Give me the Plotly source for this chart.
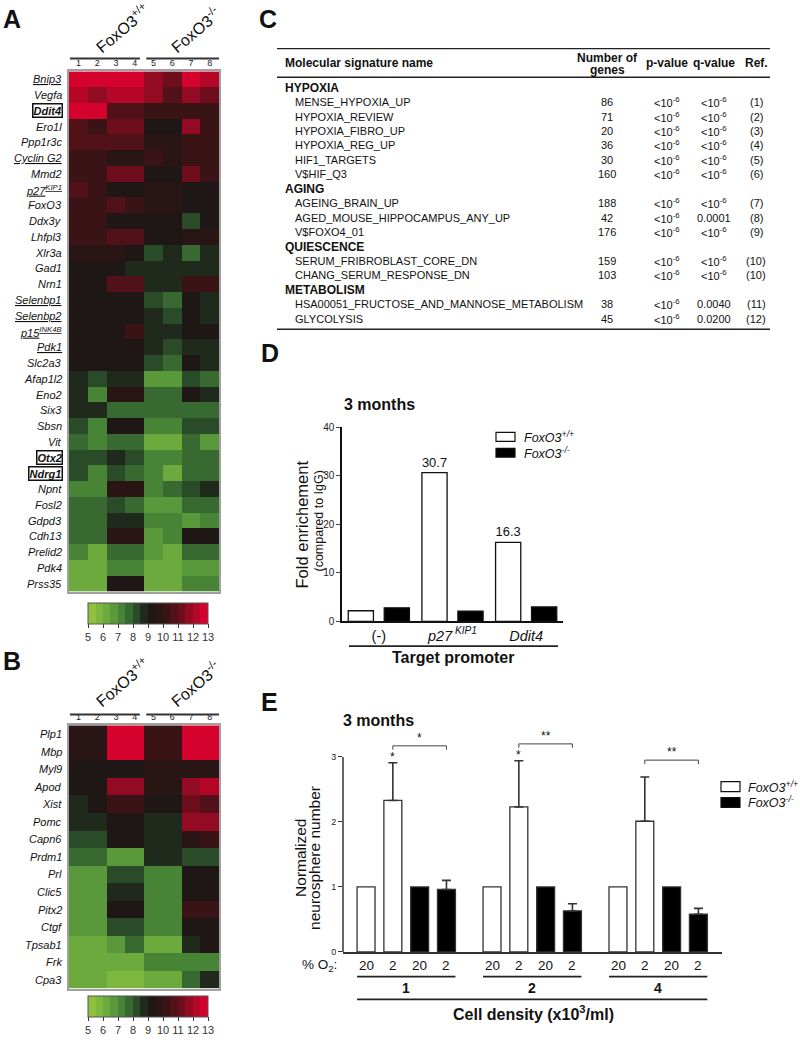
import plotly.graph_objects as go

W, H = 800, 1043
FONT = "Liberation Sans, Arial, Helvetica, sans-serif"


def X(px):
    return px / W


def Y(py):
    return 1 - py / H


# ---------------- Panel A data ----------------
sample_cols = [1, 2, 3, 4, 5, 6, 7, 8]
genes_A = ["Bnip3", "Vegfa", "Ddit4", "Ero1l", "Ppp1r3c", "Cyclin G2", "Mmd2", "p27KIP1",
           "FoxO3", "Ddx3y", "Lhfpl3", "Xlr3a", "Gad1", "Nrn1", "Selenbp1", "Selenbp2",
           "p15INK4B", "Pdk1", "Slc2a3", "Afap1l2", "Eno2", "Six3", "Sbsn", "Vit", "Otx2",
           "Ndrg1", "Npnt", "Fosl2", "Gdpd3", "Cdh13", "Prelid2", "Pdk4", "Prss35"]
z_A = [
    [12.8, 12.8, 12.8, 12.8, 11.8, 11.3, 12.8, 12.0],
    [12.0, 11.5, 12.2, 12.2, 11.5, 10.5, 11.8, 11.2],
    [12.5, 12.5, 10.9, 10.9, 10.0, 10.0, 10.0, 10.2],
    [10.9, 10.2, 11.0, 11.0, 9.4, 9.0, 11.5, 10.2],
    [10.9, 10.9, 10.9, 10.9, 9.8, 9.8, 10.2, 10.2],
    [10.3, 10.3, 9.8, 9.8, 10.0, 9.6, 10.0, 10.0],
    [10.4, 10.4, 11.2, 11.2, 9.4, 9.4, 11.0, 10.0],
    [10.7, 10.0, 9.4, 9.4, 9.5, 9.5, 9.3, 9.3],
    [10.0, 10.0, 10.8, 10.2, 9.5, 9.5, 9.3, 9.3],
    [10.0, 10.0, 9.4, 9.4, 9.3, 9.3, 8.3, 9.3],
    [10.0, 10.0, 10.5, 10.5, 9.3, 9.3, 9.5, 9.5],
    [9.5, 9.5, 9.5, 9.3, 8.0, 8.7, 7.8, 8.5],
    [9.4, 9.4, 9.4, 8.8, 8.8, 8.8, 8.5, 8.5],
    [9.4, 9.4, 10.8, 10.8, 8.8, 8.8, 10.0, 10.0],
    [9.4, 9.2, 9.3, 9.3, 8.0, 7.5, 9.2, 8.7],
    [9.4, 9.2, 9.3, 9.3, 8.8, 8.2, 9.2, 8.7],
    [9.4, 9.3, 9.3, 10.0, 8.8, 8.8, 9.3, 9.2],
    [9.3, 9.3, 9.3, 9.3, 8.8, 8.2, 8.5, 8.5],
    [9.3, 9.3, 9.3, 9.3, 8.0, 7.5, 9.3, 8.5],
    [8.7, 8.0, 8.5, 8.5, 6.5, 6.5, 8.2, 7.5],
    [8.5, 7.0, 9.6, 9.6, 7.5, 7.5, 9.3, 8.7],
    [8.6, 8.6, 7.8, 7.8, 7.5, 7.5, 7.5, 7.5],
    [8.0, 7.3, 9.4, 9.4, 7.0, 7.0, 8.0, 8.0],
    [7.8, 7.3, 7.5, 7.5, 6.3, 6.3, 7.5, 6.5],
    [8.0, 8.0, 8.6, 8.3, 7.2, 7.2, 7.5, 7.5],
    [8.0, 7.3, 8.3, 7.8, 7.2, 6.3, 7.5, 7.5],
    [7.3, 7.3, 9.5, 9.5, 7.0, 7.8, 8.2, 8.7],
    [7.5, 7.5, 8.3, 7.8, 6.5, 6.5, 7.5, 7.5],
    [7.5, 7.5, 8.5, 8.5, 7.3, 7.3, 6.5, 7.2],
    [7.8, 7.8, 9.6, 9.6, 6.8, 7.3, 9.0, 9.0],
    [7.0, 6.3, 7.8, 7.8, 6.5, 6.0, 7.8, 7.8],
    [6.3, 6.3, 7.0, 7.0, 6.3, 6.3, 6.5, 6.8],
    [6.3, 6.0, 9.3, 9.3, 6.3, 6.3, 7.3, 7.3],
]
underlined_A = ["Bnip3", "Cyclin G2", "p27KIP1", "Selenbp1", "Selenbp2", "p15INK4B", "Pdk1"]
boxed_A = ["Ddit4", "Otx2", "Ndrg1"]
superscripts = {"p27KIP1": ("p27", "KIP1"), "p15INK4B": ("p15", "INK4B")}

# ---------------- Panel B data ----------------
genes_B = ["Plp1", "Mbp", "Myl9", "Apod", "Xist", "Pomc", "Capn6", "Prdm1", "Prl", "Clic5",
           "Pitx2", "Ctgf", "Tpsab1", "Frk", "Cpa3"]
z_B = [
    [9.8, 9.8, 12.8, 12.8, 10.0, 10.0, 12.8, 12.8],
    [9.8, 9.8, 12.8, 12.8, 10.0, 10.0, 12.5, 12.5],
    [9.4, 9.4, 9.4, 9.4, 9.8, 9.8, 9.8, 9.8],
    [9.3, 9.3, 11.5, 11.5, 9.8, 9.8, 11.8, 12.0],
    [8.5, 9.3, 10.0, 10.0, 9.4, 9.4, 11.3, 10.5],
    [8.5, 8.5, 9.3, 9.3, 8.5, 8.5, 11.8, 11.8],
    [8.3, 8.3, 9.3, 9.3, 8.8, 8.8, 9.5, 10.0],
    [7.5, 7.5, 6.5, 6.5, 8.8, 8.8, 8.2, 8.2],
    [6.5, 6.5, 8.0, 8.0, 7.3, 7.3, 9.4, 9.4],
    [6.5, 6.5, 8.7, 8.7, 7.3, 7.3, 9.4, 9.4],
    [6.5, 6.5, 9.4, 9.4, 7.3, 7.3, 10.0, 10.0],
    [6.5, 6.5, 8.0, 8.0, 7.3, 7.3, 9.3, 9.3],
    [6.0, 6.0, 6.8, 7.8, 6.0, 6.0, 8.8, 9.3],
    [6.0, 6.0, 6.0, 6.0, 7.0, 7.0, 7.3, 7.3],
    [6.0, 6.0, 5.5, 5.8, 6.0, 6.0, 7.5, 8.5],
]
scale_ticks = [5, 6, 7, 8, 9, 10, 11, 12, 13]
genotypes = ["FoxO3<sup>+/+</sup>", "FoxO3<sup>-/-</sup>"]

# ---------------- Panel C data ----------------
sig_group = ["HYPOXIA"] * 6 + ["AGING"] * 3 + ["QUIESCENCE"] * 2 + ["METABOLISM"] * 2
sig_names = ["MENSE_HYPOXIA_UP", "HYPOXIA_REVIEW", "HYPOXIA_FIBRO_UP", "HYPOXIA_REG_UP",
             "HIF1_TARGETS", "V$HIF_Q3", "AGEING_BRAIN_UP", "AGED_MOUSE_HIPPOCAMPUS_ANY_UP",
             "V$FOXO4_01", "SERUM_FRIBROBLAST_CORE_DN", "CHANG_SERUM_RESPONSE_DN",
             "HSA00051_FRUCTOSE_AND_MANNOSE_METABOLISM", "GLYCOLYSIS"]
n_genes = [86, 71, 20, 36, 30, 160, 188, 42, 176, 159, 103, 38, 45]
LT6 = "&lt;10<sup>-6</sup>"
p_values = [LT6] * 13
q_values = [LT6, LT6, LT6, LT6, LT6, LT6, LT6, "0.0001", LT6, LT6, LT6, "0.0040", "0.0200"]
refs = ["(1)", "(2)", "(3)", "(4)", "(5)", "(6)", "(7)", "(8)", "(9)", "(10)", "(10)", "(11)", "(12)"]
table_headers = ["Molecular signature name", "Number of|genes", "p-value", "q-value", "Ref."]

# ---------------- Panel D data ----------------
promoters = ["(-)", "p27KIP1", "Ddit4"]
promoter_labels = ["(-)", "<i>p27<sup> KIP1</sup></i>", "<i>Ddit4</i>"]
fold_wt = [2.2, 30.7, 16.3]
fold_ko = [2.8, 2.1, 3.0]

# ---------------- Panel E data ----------------
densities = ["1", "2", "4"]
o2_levels = ["20", "2", "20", "2"]
wt_20 = [1.0, 1.0, 1.0]
wt_2 = [2.33, 2.23, 2.01]
wt_2_err = [0.58, 0.71, 0.68]
ko_20 = [1.0, 1.0, 1.0]
ko_2 = [0.96, 0.63, 0.58]
ko_2_err = [0.14, 0.11, 0.09]
stars_vs20 = ["*", "*", ""]
stars_wt_ko = ["*", "**", "**"]

# ---------------- colour scale (stepped green-black-red) ----------------
anchors = [(5, (150, 198, 62)), (6, (118, 178, 62)), (7, (80, 145, 58)), (8, (48, 92, 44)),
           (8.5, (36, 58, 34)), (9, (26, 24, 22)), (10, (46, 20, 20)), (11, (92, 16, 26)),
           (12, (165, 8, 38)), (13, (228, 0, 46))]


def interp(v):
    for (v0, c0), (v1, c1) in zip(anchors[:-1], anchors[1:]):
        if v0 <= v <= v1:
            t = (v - v0) / (v1 - v0)
            return tuple(round(a + (b - a) * t) for a, b in zip(c0, c1))
    return anchors[-1][1]


nb = 16
colorscale = []
for k in range(nb):
    c = interp(5 + (k + 0.5) * 8 / nb)
    col = "rgb(%d,%d,%d)" % c
    colorscale.append([k / nb, col])
    colorscale.append([(k + 1) / nb, col])

fig = go.Figure()
annotations = []
shapes = []


def txt(x, y, s, size=11, xanchor="center", yanchor="middle", angle=0, color="#111",
        xref="paper", yref="paper", **kw):
    annotations.append(dict(x=x, y=y, text=s, xref=xref, yref=yref, showarrow=False,
                            xanchor=xanchor, yanchor=yanchor, textangle=angle,
                            font=dict(size=size, color=color, family=FONT), **kw))


def line(x0, y0, x1, y1, width=1.5, color="#222", xref="paper", yref="paper"):
    shapes.append(dict(type="line", x0=x0, y0=y0, x1=x1, y1=y1, xref=xref, yref=yref,
                       line=dict(color=color, width=width)))


def rect(x0, y0, x1, y1, fill, xref="paper", yref="paper"):
    shapes.append(dict(type="rect", x0=x0, y0=y0, x1=x1, y1=y1, xref=xref, yref=yref,
                       fillcolor=fill, line=dict(color="#111", width=1.2)))


def gene_label(g, underlined, boxed):
    base, sup = superscripts.get(g, (g, None))
    s = base + ("<sup>%s</sup>" % sup if sup else "")
    if boxed:
        s = "<b>%s</b>" % s
    if underlined:
        s = "<u>%s</u>" % s
    return "<i>%s</i>" % s


# ---------------- heatmaps ----------------
fig.add_trace(go.Heatmap(z=z_A, x=sample_cols, y=genes_A, coloraxis="coloraxis",
                         xaxis="x", yaxis="y", hoverinfo="skip"))
fig.add_trace(go.Heatmap(z=z_B, x=sample_cols, y=genes_B, coloraxis="coloraxis2",
                         xaxis="x2", yaxis="y2", hoverinfo="skip"))

heat_x = dict(side="top", tickvals=sample_cols, ticks="", tickfont=dict(size=9, color="#222"),
              showline=True, mirror=True, linecolor="#a0a0a0", linewidth=1.5, showgrid=False,
              zeroline=False, range=[0.5, 8.5], ticklabelstandoff=0)
heat_y = dict(autorange="reversed", showticklabels=False, ticks="", showline=True, mirror=True,
              linecolor="#a0a0a0", linewidth=1.5, showgrid=False, zeroline=False)


def colorbar(ypx):
    return dict(orientation="h", x=X(148), xanchor="center", y=Y(ypx), yanchor="top",
                lenmode="pixels", len=120, thickness=21, tickvals=scale_ticks, ticks="outside",
                ticklen=4, tickcolor="#333", tickfont=dict(size=11, color="#333", family=FONT),
                outlinewidth=1, outlinecolor="#555", xpad=0, ypad=0)


for (genes, xa, ya, grp_y, lab_y) in [(genes_A, "x", "y", 54, 23), (genes_B, "x2", "y2", 717, 684)]:
    for i, g in enumerate(genes):
        boxed = g in boxed_A
        kw = dict(bordercolor="#111", borderwidth=1.5, borderpad=0) if boxed else {}
        txt(X(64) if not boxed else X(63), i, gene_label(g, g in underlined_A, boxed), size=11,
            xanchor="right", yref=ya, **kw)
    # group lines above sample numbers
    line(0.55, Y(grp_y), 4.28, Y(grp_y), width=2, color="#333", xref=xa)
    line(4.62, Y(grp_y), 8.5, Y(grp_y), width=2, color="#333", xref=xa)
    txt(X(122), Y(lab_y), genotypes[0], size=16, angle=-40)
    txt(X(195), Y(lab_y + 2), genotypes[1], size=16, angle=-40)

txt(X(12), Y(14), "<b>A</b>", size=25)
txt(X(12), Y(663), "<b>B</b>", size=25)

# ---------------- Panel C: table ----------------
txt(X(268), Y(14), "<b>C</b>", size=25)
line(X(277), Y(44), X(770), Y(44), width=1.3)
line(X(277), Y(73), X(770), Y(73), width=1.3)
col_x = [283, 607, 667, 714, 756]
txt(X(col_x[0]), Y(59), "<b>%s</b>" % table_headers[0], size=12, xanchor="left")
for cx, h in zip(col_x[1:], table_headers[1:]):
    parts = h.split("|")
    if len(parts) == 2:
        txt(X(cx), Y(54), "<b>%s</b>" % parts[0], size=12)
        txt(X(cx), Y(65.5), "<b>%s</b>" % parts[1], size=12)
    else:
        txt(X(cx), Y(59), "<b>%s</b>" % h, size=12)

row_y = 83.5
step = 14.6
prev = None
for grp, name, n, p, q, r in zip(sig_group, sig_names, n_genes, p_values, q_values, refs):
    if grp != prev:
        txt(X(283), Y(row_y), "<b>%s</b>" % grp, size=12, xanchor="left")
        row_y += step
        prev = grp
    txt(X(293), Y(row_y), name, size=11, xanchor="left")
    txt(X(col_x[1]), Y(row_y), str(n), size=11)
    txt(X(col_x[2]), Y(row_y), p, size=11)
    txt(X(col_x[3]), Y(row_y), q, size=11)
    txt(X(col_x[4]), Y(row_y), r, size=11)
    row_y += step
line(X(277), Y(row_y - 4), X(770), Y(row_y - 4), width=1.3)

# ---------------- Panel D: ChIP bars ----------------
fig.add_trace(go.Bar(x=promoters, y=fold_wt, marker=dict(color="white", line=dict(color="#111", width=1.3)),
                     text=["%.1f" % v if v > 10 else "" for v in fold_wt], textposition="outside",
                     textfont=dict(size=13, color="#111", family=FONT), cliponaxis=False,
                     xaxis="x3", yaxis="y3", hoverinfo="skip"))
fig.add_trace(go.Bar(x=promoters, y=fold_ko, marker=dict(color="black", line=dict(color="#111", width=1.3)),
                     xaxis="x3", yaxis="y3", hoverinfo="skip"))

txt(X(270), Y(352), "<b>D</b>", size=25)
txt(X(342), Y(404), "<b>3 months</b>", size=16, xanchor="left")
txt(X(302), Y(525), "Fold enrichement", size=16.5, angle=-90)
txt(X(319), Y(522), "(compared to IgG)", size=12.5, angle=-90)
line(X(349), Y(648), X(558), Y(648), width=1.6)
txt(X(453), Y(659), "<b>Target promoter</b>", size=16)
rect(X(496), Y(432), X(515), Y(441), "white")
rect(X(496), Y(448), X(515), Y(457), "black")
txt(X(522), Y(436.5), "<i>%s</i>" % genotypes[0], size=12.5, xanchor="left")
txt(X(522), Y(452.5), "<i>%s</i>" % genotypes[1], size=12.5, xanchor="left")

# ---------------- Panel E: neurosphere bars ----------------
GROUP_STRIDE = 4.7
BW = 0.67


def pos(g, b):
    return g * GROUP_STRIDE + b


series = [
    (wt_20, None, 0, "white"),
    (wt_2, wt_2_err, 1, "white"),
    (ko_20, None, 2, "black"),
    (ko_2, ko_2_err, 3, "black"),
]
for vals, err, b, color in series:
    kw = {}
    if err is not None:
        kw["error_y"] = dict(type="data", symmetric=False, array=err, arrayminus=[0] * len(err),
                             color="#333", thickness=1.6, width=4.5)
    fig.add_trace(go.Bar(x=[pos(g, b) for g in range(len(vals))], y=vals, width=BW, offset=-BW / 2,
                         marker=dict(color=color, line=dict(color="#333", width=1.3)),
                         xaxis="x4", yaxis="y4", hoverinfo="skip", **kw))

txt(X(269), Y(704), "<b>E</b>", size=25)
txt(X(341), Y(723), "<b>3 months</b>", size=16, xanchor="left")
txt(X(301), Y(862), "Normalized", size=15.5, angle=-90)
txt(X(315), Y(862), "neurosphere number", size=15.5, angle=-90)
# y axis line (0..3)
line(X(343), 0, X(343), 3, width=1.5, color="#333", yref="y4")

for g in range(len(densities)):
    top = wt_2[g] + wt_2_err[g]
    if stars_vs20[g]:
        txt(pos(g, 1), top - 0.045, stars_vs20[g], size=12, yanchor="bottom", xref="x4", yref="y4")
    by = top + 0.26
    shapes.append(dict(type="path", xref="x4", yref="y4",
                       path="M %f,%f L %f,%f L %f,%f L %f,%f" % (pos(g, 1), by - 0.06, pos(g, 1), by,
                                                                 pos(g, 3), by, pos(g, 3), by - 0.06),
                       line=dict(color="#444", width=1)))
    txt((pos(g, 1) + pos(g, 3)) / 2, by - 0.02, stars_wt_ko[g], size=12, yanchor="bottom",
        xref="x4", yref="y4")
    for b in range(4):
        txt(pos(g, b), Y(971), o2_levels[b], size=13.5, xref="x4")
    line(pos(g, 0) - BW / 2, Y(982), pos(g, 3) + BW / 2, Y(982), width=1.6, xref="x4")
    txt((pos(g, 0) + pos(g, 3)) / 2, Y(993.5), "<b>%s</b>" % densities[g], size=14, xref="x4")

txt(X(319), Y(971), "% O<sub>2</sub>:", size=13.5)
line(pos(0, 0) - BW / 2, Y(1005), pos(len(densities) - 1, 3) + BW / 2, Y(1005), width=1.6, xref="x4")
txt(X(533), Y(1019), "<b>Cell density (x10<sup>3</sup>/ml)</b>", size=16)
rect(X(721), Y(785), X(740), Y(795), "white")
rect(X(721), Y(801), X(740), Y(811), "black")
txt(X(746), Y(790), "<i>%s</i>" % genotypes[0], size=12.5, xanchor="left")
txt(X(746), Y(806), "<i>%s</i>" % genotypes[1], size=12.5, xanchor="left")

fig.update_layout(
    width=W, height=H, margin=dict(l=0, r=0, t=0, b=0), paper_bgcolor="white",
    plot_bgcolor="white", showlegend=False, font=dict(family=FONT, color="#111"),
    barmode="group", bargap=0.023, bargroupgap=0.3,
    coloraxis=dict(colorscale=colorscale, cmin=5, cmax=13, colorbar=colorbar(604)),
    coloraxis2=dict(colorscale=colorscale, cmin=5, cmax=13, colorbar=colorbar(1002)),
    xaxis=dict(domain=[X(69), X(219)], anchor="y", **heat_x),
    yaxis=dict(domain=[Y(593), Y(67)], anchor="x", **heat_y),
    xaxis2=dict(domain=[X(69), X(219)], anchor="y2", **heat_x),
    yaxis2=dict(domain=[Y(994), Y(728)], anchor="x2", **heat_y),
    xaxis3=dict(domain=[X(342), X(563)], anchor="y3", showline=True, linecolor="#111", linewidth=1.5,
                ticks="", tickvals=promoters, ticktext=promoter_labels,
                tickfont=dict(size=14.5, color="#111"), showgrid=False, zeroline=False),
    yaxis3=dict(domain=[Y(623), Y(427)], anchor="x3", range=[0, 40], showline=True, linecolor="#111",
                linewidth=1.5, ticks="outside", ticklen=4, tickvals=[0, 10, 20, 30, 40],
                tickfont=dict(size=10, color="#222"), showgrid=False, zeroline=False),
    xaxis4=dict(domain=[X(343), X(722)], anchor="y4", range=[-0.86, 13.28], showline=True,
                linecolor="#333", linewidth=1.5, ticks="", showticklabels=False, showgrid=False,
                zeroline=False),
    yaxis4=dict(domain=[Y(957), Y(957 - 3.4 * 65.7)], anchor="x4", range=[0, 3.4], showline=False,
                ticks="outside", ticklen=4, tickcolor="#333", tickvals=[0, 1, 2, 3],
                tickfont=dict(size=9, color="#222"), showgrid=False, zeroline=False),
    annotations=annotations, shapes=shapes,
)

fig.write_html("out.html", config={"displayModeBar": False},
               post_script="document.body.style.margin='0px';document.body.style.padding='0px';")
